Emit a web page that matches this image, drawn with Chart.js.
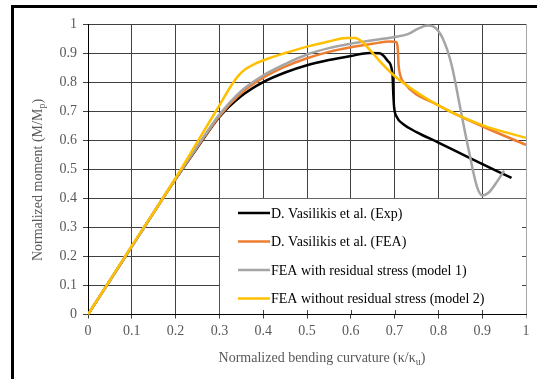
<!DOCTYPE html>
<html>
<head>
<meta charset="utf-8">
<script src="https://cdn.jsdelivr.net/npm/chart.js@4/dist/chart.umd.min.js"></script>
<style>
  html, body { margin: 0; padding: 0; background: #fff; }
  canvas { display: block; }
</style>
</head>
<body>
<canvas id="momentChart" width="537" height="379"></canvas>
<script>
// curves (curvature k/ku, moment M/Mp)
const expCurv = [0, 0.1, 0.2, 0.25, 0.3, 0.35, 0.4, 0.45, 0.5, 0.55, 0.6, 0.643, 0.666, 0.685, 0.695, 0.697, 0.699, 0.705, 0.72, 0.75, 0.8, 0.871, 0.967];
const expMoment = [0, 0.234, 0.466, 0.575, 0.68, 0.752, 0.8, 0.833, 0.858, 0.876, 0.89, 0.9, 0.899, 0.872, 0.83, 0.76, 0.712, 0.68, 0.655, 0.628, 0.592, 0.539, 0.47];

const feaCurv = [0, 0.1, 0.2, 0.25, 0.3, 0.35, 0.4, 0.45, 0.5, 0.55, 0.6, 0.65, 0.69, 0.703, 0.707, 0.709, 0.714, 0.72, 0.8, 0.9, 1.0];
const feaMoment = [0, 0.234, 0.466, 0.577, 0.683, 0.762, 0.815, 0.853, 0.882, 0.904, 0.92, 0.932, 0.94, 0.938, 0.92, 0.86, 0.818, 0.8, 0.72, 0.648, 0.584];

const model1Curv = [0, 0.1, 0.2, 0.25, 0.3, 0.35, 0.4, 0.45, 0.5, 0.55, 0.6, 0.65, 0.7, 0.73, 0.755, 0.775, 0.79, 0.81, 0.83, 0.85, 0.87, 0.888, 0.9, 0.915, 0.935, 0.95];
const model1Moment = [0, 0.234, 0.468, 0.58, 0.688, 0.77, 0.823, 0.862, 0.895, 0.917, 0.932, 0.944, 0.955, 0.965, 0.985, 0.995, 0.99, 0.95, 0.86, 0.71, 0.56, 0.44, 0.41, 0.42, 0.46, 0.495];

const model2Curv = [0, 0.1, 0.2, 0.25, 0.3, 0.33, 0.345, 0.36, 0.38, 0.415, 0.45, 0.5, 0.55, 0.59, 0.61, 0.625, 0.643, 0.666, 0.696, 0.72, 0.8, 0.9, 1.0];
const model2Moment = [0, 0.236, 0.47, 0.595, 0.72, 0.795, 0.825, 0.845, 0.862, 0.883, 0.9, 0.922, 0.94, 0.952, 0.952, 0.94, 0.912, 0.872, 0.826, 0.797, 0.72, 0.652, 0.608];

const seriesLabels = [
  "D. Vasilikis et al. (Exp)",
  "D. Vasilikis et al. (FEA)",
  "FEA with residual stress (model 1)",
  "FEA without residual stress (model 2)",
];
const seriesColors = ["#000000", "#ED7D31", "#A5A5A5", "#FFC000"];

const serif = "'Liberation Serif', 'Times New Roman', serif";
const labelGray = "#595959";

function toPoints(xs, ys) {
  return xs.map((x, i) => ({ x: x, y: ys[i] }));
}

// draws text with one subscripted part, centred on 0,0
function drawSubText(ctx, parts) {
  let total = 0;
  parts.forEach((p) => {
    ctx.font = (p.sub ? "10px " : "14px ") + serif;
    p.w = ctx.measureText(p.t).width;
    total += p.w;
  });
  let x = -total / 2;
  parts.forEach((p) => {
    ctx.font = (p.sub ? "10px " : "14px ") + serif;
    ctx.fillText(p.t, x, p.sub ? 4 : 0);
    x += p.w;
  });
}

const legendBoxPlugin = {
  id: "legendBox",
  beforeDatasetsDraw(chart) {
    const ctx = chart.ctx;
    const xs = chart.scales.x;
    const ys = chart.scales.y;
    const left = xs.getPixelForValue(0.3) + 0.5;
    const right = xs.getPixelForValue(1) - 1;
    const top = ys.getPixelForValue(0.4) + 0.5;
    const bottom = ys.getPixelForValue(0) - 0.5;
    ctx.save();
    ctx.fillStyle = "#fff";
    ctx.fillRect(left, top, right - left, bottom - top);
    // little ticks left visible along the axes
    ctx.strokeStyle = "#404040";
    ctx.lineWidth = 1;
    ctx.beginPath();
    for (let v = 4; v <= 9; v++) {
      const px = Math.round(xs.getPixelForValue(v / 10)) + 0.5;
      ctx.moveTo(px, bottom);
      ctx.lineTo(px, bottom - 4);
    }
    for (let v = 1; v <= 3; v++) {
      const py = Math.round(ys.getPixelForValue(v / 10)) + 0.5;
      ctx.moveTo(right + 1, py);
      ctx.lineTo(right - 3, py);
    }
    ctx.stroke();
    ctx.restore();
  },
  afterDraw(chart) {
    const ctx = chart.ctx;
    ctx.save();
    // legend
    ctx.textBaseline = "middle";
    ctx.font = "14px " + serif;
    seriesLabels.forEach((lab, i) => {
      const y = 213 + i * 28.5;
      ctx.strokeStyle = seriesColors[i];
      ctx.lineWidth = 2.5;
      ctx.beginPath();
      ctx.moveTo(238, y);
      ctx.lineTo(270, y);
      ctx.stroke();
      ctx.fillStyle = "#000";
      ctx.fillText(lab, 271, y + 1);
    });
    // axis titles
    ctx.fillStyle = labelGray;
    ctx.save();
    ctx.translate(322, 358);
    drawSubText(ctx, [{ t: "Normalized bending curvature (\u03BA/\u03BA" }, { t: "u", sub: true }, { t: ")" }]);
    ctx.restore();
    ctx.save();
    ctx.translate(38, 180);
    ctx.rotate(-Math.PI / 2);
    drawSubText(ctx, [{ t: "Normalized moment (M/M" }, { t: "p", sub: true }, { t: ")" }]);
    ctx.restore();
    // frame of the figure
    ctx.fillStyle = "#000";
    ctx.fillRect(11, 5, 3, 374);
    ctx.fillRect(11, 5, 526, 3);
    ctx.restore();
  },
};

const momentChart = new Chart(document.querySelector("#momentChart"), {
  type: "scatter",
  data: {
    datasets: [
      { data: toPoints(expCurv, expMoment), order: 3 },
      { data: toPoints(feaCurv, feaMoment), order: 2 },
      { data: toPoints(model1Curv, model1Moment), order: 1 },
      { data: toPoints(model2Curv, model2Moment), order: 0 },
    ].map((d, i) => ({
      ...d,
      label: seriesLabels[i],
      borderColor: seriesColors[i],
      backgroundColor: seriesColors[i],
      showLine: true,
      borderWidth: 2.5,
      pointRadius: 0,
      cubicInterpolationMode: "monotone",
    })),
  },
  options: {
    responsive: false,
    animation: false,
    layout: { padding: { left: 0, top: 24, right: 11, bottom: 0 } },
    plugins: { legend: { display: false }, tooltip: { enabled: false } },
    scales: {
      x: {
        min: 0,
        max: 1,
        afterFit: (scale) => { scale.height = 64.5; },
        ticks: {
          stepSize: 0.1,
          padding: 4,
          color: labelGray,
          font: { family: serif, size: 14 },
          callback: (v) => String(Number(v.toFixed(1))),
        },
        grid: {
          color: (c) => (c.tick && c.tick.value > 0.99 ? "#a6a6a6" : "#404040"),
          lineWidth: 1,
          tickLength: 4,
        },
        border: { color: "#000", width: 1 },
      },
      y: {
        min: 0,
        max: 1,
        afterFit: (scale) => { scale.width = 88; },
        ticks: {
          stepSize: 0.1,
          padding: 6,
          color: labelGray,
          font: { family: serif, size: 14 },
          callback: (v) => String(Number(v.toFixed(1))),
        },
        grid: { color: "#404040", lineWidth: 1, tickLength: 5 },
        border: { color: "#000", width: 1 },
      },
    },
  },
  plugins: [legendBoxPlugin],
});
</script>
</body>
</html>
